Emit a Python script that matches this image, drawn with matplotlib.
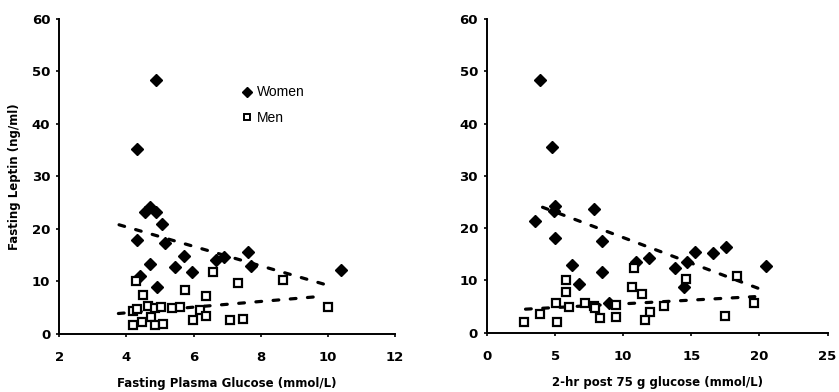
import matplotlib
matplotlib.use("Agg")
import matplotlib.pyplot as plt
from matplotlib.lines import Line2D

# ---------------- data ----------------
# Left panel: fasting plasma glucose (mmol/L) vs fasting leptin (ng/ml)
fpg_women_x = [4.88, 4.30, 4.55, 4.70, 4.89, 5.05, 4.32, 5.14, 5.73, 6.68, 6.90,
               7.63, 7.70, 10.38, 4.70, 5.44, 5.94, 4.40, 4.92]
fpg_women_y = [48.3, 35.2, 23.3, 24.2, 23.3, 20.9, 17.9, 17.4, 14.9, 14.1, 14.7,
               15.7, 13.0, 12.2, 13.3, 12.7, 11.75, 11.1, 9.0]
fpg_men_x = [4.28, 4.50, 5.74, 6.58, 6.37, 4.20, 4.32, 4.65, 4.85, 5.03, 5.35,
             5.59, 6.19, 4.72, 4.21, 4.45, 4.85, 5.08, 5.99, 6.37, 7.33, 8.66,
             10.02, 7.08, 7.46]
fpg_men_y = [10.0, 7.4, 8.4, 11.9, 7.2, 4.4, 4.7, 5.3, 4.9, 5.2, 4.9,
             5.1, 4.6, 3.2, 1.7, 2.2, 1.7, 1.9, 2.7, 3.4, 9.65, 10.2,
             5.1, 2.7, 2.9]
fpg_trend_x = [3.78, 10.15]
fpg_trend_women = [20.8, 9.0]
fpg_trend_men_x = [3.76, 9.86]
fpg_trend_men = [3.9, 7.2]

# Right panel: 2-hr post 75 g glucose (mmol/L) vs fasting leptin (ng/ml)
ogtt_women_x = [3.89, 4.76, 3.53, 5.00, 4.93, 7.83, 5.00, 8.48, 6.25, 8.43, 6.74,
                8.95, 10.96, 11.86, 15.24, 16.59, 17.56, 13.82, 14.71, 14.47, 20.46]
ogtt_women_y = [48.4, 35.5, 21.4, 24.2, 23.2, 23.6, 18.1, 17.6, 12.96, 11.7, 9.3,
                5.7, 13.6, 14.35, 15.5, 15.2, 16.4, 12.3, 13.6, 8.8, 12.8]
ogtt_men_x = [2.75, 3.89, 5.17, 5.05, 5.77, 5.77, 6.01, 7.22, 7.83, 7.95, 8.31,
              9.44, 9.44, 10.80, 10.68, 11.40, 11.93, 11.62, 13.00, 14.59, 17.46,
              18.35, 19.59]
ogtt_men_y = [2.1, 3.6, 2.1, 5.74, 10.1, 7.85, 5.0, 5.6, 5.1, 4.67, 2.8,
              5.3, 3.06, 12.3, 8.8, 7.4, 3.9, 2.4, 5.1, 10.2, 3.2,
              10.85, 5.6]
ogtt_trend_x = [4.08, 19.9]
ogtt_trend_women = [24.0, 8.5]
ogtt_trend_men_x = [2.83, 19.66]
ogtt_trend_men = [4.5, 6.9]

left_xticks = [2, 4, 6, 8, 10, 12]
right_xticks = [0, 5, 10, 15, 20, 25]
yticks = [0, 10, 20, 30, 40, 50, 60]

# ---------------- plot ----------------
fig = plt.figure(figsize=(8.39, 3.92), dpi=100)
ax1 = fig.add_axes([0.0707, 0.148, 0.400, 0.8036])
ax2 = fig.add_axes([0.5804, 0.1513, 0.406, 0.800])

tickfont = dict(family="DejaVu Sans", weight="bold", size=9.5)
labelfont = dict(family="DejaVu Sans", weight="bold", size=8.5)

dash_kw = dict(color="black", lw=2.3, linestyle=(0, (1.8, 3.6)),
               dash_capstyle="round", zorder=2)
women_kw = dict(marker="D", ms=6.5, color="black", linestyle="none", zorder=3)
men_kw = dict(marker="s", ms=6.0, mfc="white", mec="black", mew=1.6,
              linestyle="none", zorder=3)

def style(ax, xticks, xlim):
    ax.set_xlim(*xlim)
    ax.set_ylim(0, 60)
    ax.set_xticks(xticks)
    ax.set_yticks(yticks)
    for s in ["top", "right"]:
        ax.spines[s].set_visible(False)
    for s in ["left", "bottom"]:
        ax.spines[s].set_linewidth(1.4)
        ax.spines[s].set_color("black")
    ax.tick_params(axis="x", direction="out", length=2.5, width=1.2, pad=10)
    ax.tick_params(axis="y", direction="out", length=2.5, width=1.2, pad=4)
    for lab in ax.get_xticklabels() + ax.get_yticklabels():
        lab.set_fontfamily(tickfont["family"])
        lab.set_fontweight(tickfont["weight"])
        lab.set_fontsize(tickfont["size"])
    ax.patch.set_visible(False)

# Left panel
ax1.plot(fpg_trend_x, fpg_trend_women, **dash_kw)
ax1.plot(fpg_trend_men_x, fpg_trend_men, **dash_kw)
ax1.plot(fpg_women_x, fpg_women_y, **women_kw)
ax1.plot(fpg_men_x, fpg_men_y, **men_kw)
style(ax1, left_xticks, (2, 12))
ax1.set_xlabel("Fasting Plasma Glucose (mmol/L)", labelpad=9, **labelfont)
ax1.set_ylabel("Fasting Leptin (ng/ml)", labelpad=8, **labelfont)

handles = [Line2D([], [], marker="D", ms=5.5, color="black", linestyle="none"),
           Line2D([], [], marker="s", ms=5, mfc="white", mec="black", mew=1.4,
                  linestyle="none")]
ax1.legend(handles, ["Women", "Men"], loc="upper left",
           bbox_to_anchor=(0.518, 0.82), frameon=False, handlelength=0.6,
           handletextpad=0.4, labelspacing=0.85, borderpad=0.2,
           prop=dict(family="Liberation Sans", size=10))

# Right panel
ax2.plot(ogtt_trend_x, ogtt_trend_women, **dash_kw)
ax2.plot(ogtt_trend_men_x, ogtt_trend_men, **dash_kw)
ax2.plot(ogtt_women_x, ogtt_women_y, **women_kw)
ax2.plot(ogtt_men_x, ogtt_men_y, **men_kw)
style(ax2, right_xticks, (0, 25))
ax2.set_xlabel("2-hr post 75 g glucose (mmol/L)", labelpad=9, **labelfont)

fig.savefig("out.png", dpi=100)
